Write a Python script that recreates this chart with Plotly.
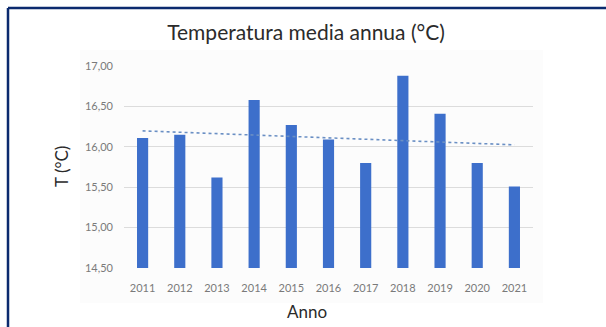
import numpy as np
import plotly.graph_objects as go

# ---- data ----
years = ["2011", "2012", "2013", "2014", "2015", "2016", "2017", "2018", "2019", "2020", "2021"]
temps = [16.11, 16.15, 15.62, 16.58, 16.27, 16.09, 15.80, 16.88, 16.41, 15.80, 15.51]
y_ticks = [14.5, 15.0, 15.5, 16.0, 16.5, 17.0]

title_text = "Temperatura media annua (°C)"
x_title = "Anno"
y_title = "T (°C)"

# linear trend (Excel-style linear trendline) derived from the data
idx = np.arange(len(temps))
slope, intercept = np.polyfit(idx, temps, 1)
trend = list(slope * idx + intercept)

W, H = 606, 327
L, R, T, B = 124, 533, 66, 268  # plot area in px

def px_x(x):
    return (x - L) / (R - L)

def px_y(y):
    return (B - y) / (B - T)

FONT = "Lato"

fig = go.Figure()
fig.add_trace(go.Bar(x=years, y=temps, marker=dict(color="#3D6FCB", line=dict(width=0)),
                     showlegend=False, hoverinfo="x+y"))
fig.add_trace(go.Scatter(x=years, y=trend, mode="lines",
                         line=dict(color="#6A8FC4", width=1.6, dash="dot"),
                         showlegend=False, hoverinfo="skip"))

fig.update_layout(
    width=W, height=H,
    margin=dict(l=L, r=W - R, t=T, b=H - B, pad=0),
    paper_bgcolor="white", plot_bgcolor="white",
    separators=",.",
    bargap=0.7,
    font=dict(family=FONT, color="#595959"),
    title=dict(text=title_text, x=px_x(306), xref="paper", xanchor="center",
               y=1 - 33 / H, yref="container", yanchor="middle",
               font=dict(family=FONT, size=21, color="#2b2b2b")),
    xaxis=dict(showgrid=False, showline=False, zeroline=False, ticks="",
               tickfont=dict(family=FONT, size=11, color="#7a7a7a"), ticklabelstandoff=12),
    yaxis=dict(range=[14.5, 17.0], tickvals=y_ticks, tickformat=".2f",
               showgrid=True, gridcolor="#DCDCDC", gridwidth=1, zeroline=False,
               showline=False, ticks="", ticklabelstandoff=10,
               tickfont=dict(family=FONT, size=11, color="#7a7a7a")),
    annotations=[
        dict(text=x_title, xref="paper", yref="paper", x=px_x(307), y=px_y(311),
             xanchor="center", yanchor="middle", showarrow=False,
             font=dict(family=FONT, size=17, color="#2b2b2b")),
        dict(text=y_title, xref="paper", yref="paper", x=px_x(61), y=px_y(167),
             xanchor="center", yanchor="middle", showarrow=False, textangle=-90,
             font=dict(family=FONT, size=17, color="#2b2b2b")),
    ],
    shapes=[
        # faint chart area
        dict(type="rect", xref="paper", yref="paper", x0=px_x(80), x1=px_x(543),
             y0=px_y(303), y1=px_y(50), fillcolor="#FCFCFC", line=dict(width=0), layer="below"),
        # frame lines (top and left)
        dict(type="line", xref="paper", yref="paper", x0=px_x(8), x1=px_x(607),
             y0=px_y(8), y1=px_y(8), line=dict(color="#0B2A6E", width=2.5)),
        dict(type="line", xref="paper", yref="paper", x0=px_x(8), x1=px_x(8),
             y0=px_y(8), y1=px_y(330), line=dict(color="#0B2A6E", width=2.5)),
    ],
)

fig.write_html("out.html")
